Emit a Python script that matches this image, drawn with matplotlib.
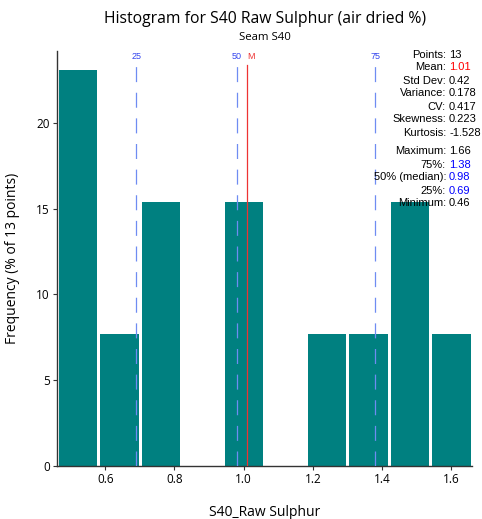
import matplotlib
matplotlib.use("Agg")
import matplotlib.pyplot as plt
import numpy as np

# Histogram bins (S40 raw sulphur, air dried %) and counts per bin
bin_edges = [0.46, 0.58, 0.70, 0.82, 0.94, 1.06, 1.18, 1.30, 1.42, 1.54, 1.66]
bin_counts = [3, 1, 2, 0, 2, 0, 1, 1, 2, 1]
n_points = 13

# Summary statistics
quartiles = {"25": 0.69, "50": 0.98, "75": 1.38}
mean_value = 1.01
stat_labels = ["Points:", "Mean:", "Std Dev:", "Variance:", "CV:", "Skewness:", "Kurtosis:",
               "Maximum:", "75%:", "50% (median):", "25%:", "Minimum:"]
stat_values = ["13", "1.01", "0.42", "0.178", "0.417", "0.223", "-1.528",
               "1.66", "1.38", "0.98", "0.69", "0.46"]
stat_colors = ["black", "red", "black", "black", "black", "black", "black",
               "black", "blue", "blue", "blue", "black"]

teal = "#008080"
qblue = "#6f8cf2"
ui_font = ["Open Sans", "DejaVu Sans"]
stat_font = ["Liberation Sans", "DejaVu Sans"]

fig = plt.figure(figsize=(4.82, 5.19), dpi=100)
ax = fig.add_axes([0.118, 0.102, 0.861, 0.800])

edges = np.array(bin_edges)
widths = np.diff(edges)
percent = np.array(bin_counts) / n_points * 100
ax.bar(edges[:-1] + widths * 0.05, percent, width=widths * 0.92, align="edge",
       color=teal, linewidth=0, zorder=2)

xmin, xmax = 0.46, 1.66
ymax = 24.2
ax.set_xlim(xmin, xmax)
ax.set_ylim(0, ymax)

line_top = 0.966
for name, val in quartiles.items():
    ax.axvline(val, ymin=0, ymax=line_top, color=qblue, lw=0.9,
               dashes=(12, 8.5), zorder=3)
    ax.text(val, ymax * 0.986, name, color="#3344ee", fontsize=6.5,
            ha="center", va="center", family=stat_font)
ax.axvline(mean_value, ymin=0, ymax=line_top, color="#ee3333", lw=0.9, zorder=4)
ax.text(mean_value + 0.012, ymax * 0.986, "M", color="#ee3333", fontsize=6.5,
        ha="center", va="center", family=stat_font)

for side in ("top", "right"):
    ax.spines[side].set_visible(False)
for side in ("left", "bottom"):
    ax.spines[side].set_color("#333333")
    ax.spines[side].set_linewidth(1.0)

ax.set_xticks([0.6, 0.8, 1.0, 1.2, 1.4, 1.6])
ax.set_xticklabels(["0.6", "0.8", "1.0", "1.2", "1.4", "1.6"])
ax.set_yticks([0, 5, 10, 15, 20])
ax.tick_params(axis="both", length=3, width=0.8, color="#333333",
               labelsize=8.5, pad=2)
for lab in ax.get_xticklabels() + ax.get_yticklabels():
    lab.set_family(ui_font)

ax.set_xlabel("S40_Raw Sulphur", fontsize=10, family=ui_font, labelpad=14)
ax.set_ylabel("Frequency (% of 13 points)", fontsize=10, family=ui_font, labelpad=12)

fig.text(0.549, 0.963, "Histogram for S40 Raw Sulphur (air dried %)",
         ha="center", va="center", fontsize=11.3, family=ui_font)
fig.text(0.549, 0.928, "Seam S40", ha="center", va="center",
         fontsize=8.2, family=ui_font)

# Statistics block, right side of the plot
colon_x = 446 / 482
row_px = [54.5, 67.5, 80.5, 93.5, 106.5, 119.5, 132.5,
          151.5, 164.5, 177.5, 190.5, 203.5]
for lab, val, col, ypx in zip(stat_labels, stat_values, stat_colors, row_px):
    y = 1 - ypx / 519
    fig.text(colon_x, y, lab, ha="right", va="center", fontsize=8,
             family=stat_font, color="black")
    fig.text(colon_x + 3 / 482, y, val, ha="left", va="center", fontsize=8,
             family=stat_font, color=col)

fig.savefig("out.png", dpi=100)
